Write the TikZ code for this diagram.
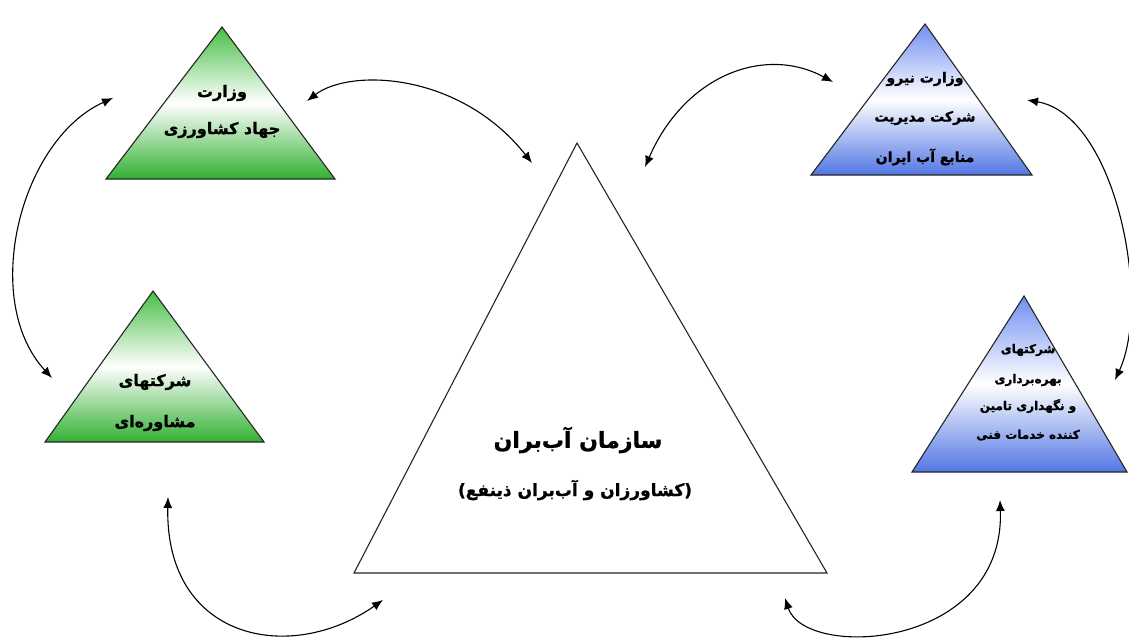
\documentclass[tikz,border=0pt]{standalone}
\usepackage{fontspec}
\usetikzlibrary{arrows.meta}
\TeXXeTstate=1
\newfontfamily\fa[Script=Arabic, BoldFeatures={FakeBold=1.2}]{DejaVu Sans}
\newfontfamily\falat[BoldFeatures={FakeBold=1.2}]{DejaVu Sans}
\definecolor{gtop}{RGB}{70,190,70}
\definecolor{gbot}{RGB}{50,176,50}
\definecolor{btop}{RGB}{112,142,242}
\definecolor{bbot}{RGB}{82,118,228}
\tikzset{
 tri/.style={draw=black!85, line width=1.1pt, line join=miter},
 gtri/.style={tri, top color=gtop, bottom color=gbot, middle color=white},
 btri/.style={tri, top color=btop, bottom color=bbot, middle color=white},
 lbl/.style={inner sep=0pt, text=black},
 link/.style={line width=1.1pt, {Latex[length=11pt,width=9pt]}-{Latex[length=11pt,width=9pt]}},
}
\begin{document}
\begin{tikzpicture}[x=1pt,y=-1pt]
\useasboundingbox (0,0) rectangle (1129,638);
\fill[white] (0,0) rectangle (1129,638);
% triangles
\path[gtri] (222,27) -- (106,179) -- (335,179) -- cycle;
\path[btri] (925,24) -- (811,175) -- (1032,175) -- cycle;
\path[gtri] (153,291) -- (45,442) -- (264,442) -- cycle;
\path[btri] (1024,296) -- (912,472) -- (1127,472) -- cycle;
\path[tri, fill=white] (577,143) -- (354,573) -- (827,573) -- cycle;
% labels
\node[lbl, font=\fa\bfseries\fontsize{16}{19}\selectfont] (a1) at (222,93) {\beginR وزارت\endR};
\node[lbl, font=\fa\bfseries\fontsize{16}{19}\selectfont] (a2) at (222,130) {\beginR جهاد کشاورزی\endR};
\node[lbl, font=\fa\bfseries\fontsize{14}{17}\selectfont] (b1) at (925,79) {\beginR وزارت نیرو\endR};
\node[lbl, font=\fa\bfseries\fontsize{14}{17}\selectfont] (b2) at (925,118) {\beginR شرکت مدیریت\endR};
\node[lbl, font=\fa\bfseries\fontsize{14}{17}\selectfont] (b3) at (925,157) {\beginR منابع آب ایران\endR};
\node[lbl, font=\fa\bfseries\fontsize{16}{19}\selectfont] (c1) at (155,382) {\beginR شرکتهای\endR};
\node[lbl, font=\fa\bfseries\fontsize{16}{19}\selectfont] (c2) at (155,423) {\beginR مشاوره‌ای\endR};
\node[lbl, font=\fa\bfseries\fontsize{12}{14}\selectfont] (d1) at (1028,350) {\beginR شرکتهای\endR};
\node[lbl, font=\fa\bfseries\fontsize{12}{14}\selectfont] (d2) at (1028,380) {\beginR بهره‌برداری\endR};
\node[lbl, font=\fa\bfseries\fontsize{12}{14}\selectfont] (d3) at (1028,406) {\beginR و نگهداری تامین\endR};
\node[lbl, font=\fa\bfseries\fontsize{12}{14}\selectfont] (d4) at (1028,435) {\beginR کننده خدمات فنی\endR};
\node[lbl, font=\fa\bfseries\fontsize{22}{26}\selectfont] (e1) at (578,440) {\beginR سازمان آب‌بران\endR};
\node[lbl, font=\fa\bfseries\fontsize{17}{20}\selectfont] (e2) at (575,490) {{\falat\bfseries(}\beginR کشاورزان و آب‌بران ذینفع\endR{\falat\bfseries)}};
% connector ends
\coordinate (p1a) at (113,98);
\coordinate (p1b) at (52,378);
\coordinate (p2a) at (307,101);
\coordinate (p2b) at (532,163);
\coordinate (p3a) at (645,167);
\coordinate (p3b) at (833,82);
\coordinate (p4a) at (1027,100);
\coordinate (p4b) at (1115,380);
\coordinate (p5a) at (785,598);
\coordinate (p5b) at (1000,500);
\coordinate (p6a) at (168,497);
\coordinate (p6b) at (383,600);
% connectors
\draw[link] (p1a) .. controls (20,140) and (-20,300) .. (p1b);
\draw[link] (p2a) .. controls (350,68) and (460,72) .. (p2b);
\draw[link] (p3a) .. controls (685,75) and (765,45) .. (p3b);
\draw[link] (p4a) .. controls (1115,115) and (1152,300) .. (p4b);
\draw[link] (p5a) .. controls (805,660) and (1005,650) .. (p5b);
\draw[link] (p6a) .. controls (165,640) and (290,665) .. (p6b);
\end{tikzpicture}
\end{document}
